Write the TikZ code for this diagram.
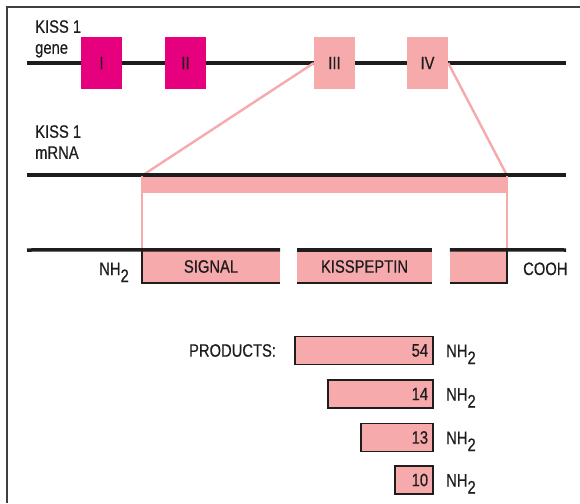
\documentclass[tikz,border=0pt]{standalone}
\usepackage{fontspec}
\setmainfont[FakeStretch=0.82, FakeBold=0.5]{Liberation Sans}
\usetikzlibrary{positioning}

\definecolor{exondark}{RGB}{230,0,126}
\definecolor{exonlight}{RGB}{246,170,172}
\definecolor{ink}{RGB}{30,28,29}

\newcommand\nhtwo{NH\raisebox{-7pt}{2}}

\tikzset{
  strand/.style={line width=3.5pt, ink},
  outline/.style={line width=2pt, ink},
  splice/.style={line width=2.4pt, exonlight},
  exonbox/.style={minimum width=41pt, minimum height=52pt, inner sep=0pt, text=ink},
  segbox/.style={fill=exonlight, minimum height=33pt, inner sep=0pt, text=ink},
  prodbox/.style={draw=ink, fill=exonlight, line width=1.8pt, minimum height=28pt,
    inner xsep=5pt, inner ysep=0pt, align=right, text=ink},
  lbl/.style={inner sep=0pt, text=ink}
}

\begin{document}
\begin{tikzpicture}[x=1pt, y=-1pt, font=\fontsize{18}{21}\selectfont]

  \useasboundingbox (0,0) rectangle (580,503);
  \draw[line width=1.4pt, ink!85] (7,503) -- (7,7) -- (580,7);

  %% line ends
  \coordinate (geneL) at (27,63);   \coordinate (geneR) at (566,63);
  \coordinate (mrnaL) at (27,175);  \coordinate (mrnaR) at (566,175);
  \coordinate (protL) at (27,250);  \coordinate (protR) at (566,250);

  %% gene
  \draw[strand] (geneL) -- (geneR);
  \node[lbl, align=left, anchor=north west] (genelbl) at (35,20) {KISS 1\\gene};
  \node[exonbox, fill=exondark]  (e1) at (101.5,63) {I};
  \node[exonbox, fill=exondark]  (e2) at (185.5,63) {II};
  \node[exonbox, fill=exonlight] (e3) at (334.5,63) {III};
  \node[exonbox, fill=exonlight] (e4) at (427.5,63) {IV};

  %% mRNA
  \node[lbl, align=left, anchor=north west] (mrnalbl) at (35,125) {KISS 1\\mRNA};
  \node[fill=exonlight, minimum width=365pt, minimum height=17pt, inner sep=0pt]
    (mbar) at (324.5,184.5) {};
  \draw[splice] (e3.west) -- (mbar.north west); %% III -> mRNA
  \draw[splice] (e4.east) -- (mbar.north east); %% IV -> mRNA
  \draw[strand] (mrnaL) -- (mrnaR);

  %% protein
  \node[segbox, minimum width=138pt] (sig)  at (211,266.5) {SIGNAL};
  \node[segbox, minimum width=135pt] (kiss) at (364.5,266.5) {KISSPEPTIN};
  \node[segbox, minimum width=57pt]  (tail) at (478.5,266.5) {};
  \draw[splice] (mbar.north west) -- (sig.north west);
  \draw[splice] (mbar.north east) -- (tail.north east);
  \draw[strand] (protL) -- (sig.north east);
  \draw[strand] (kiss.north west) -- (kiss.north east);
  \draw[strand] (tail.north west) -- (protR);
  \draw[outline] (sig.north west) -- (sig.south west) -- (sig.south east);
  \draw[outline] (kiss.south west) -- (kiss.south east);
  \draw[outline] (tail.south west) -- (tail.south east) -- (tail.north east);
  \node[lbl, anchor=base east] (nhlbl) at (129,275) {\nhtwo};
  \node[lbl, anchor=base west] (cooh) at (523,275) {COOH};

  %% products
  \foreach \n/\w/\y in {54/138/350.5, 14/105/394, 13/72/437.5, 10/38/480}{
    \node[prodbox, text width=\w pt-10pt, anchor=east] (p\n) at (434,\y) {\n};
    \node[lbl, anchor=base west] (h\n) at ([xshift=12pt, yshift=-6.5pt]p\n.east) {\nhtwo};
  }
  \node[lbl, left=18pt of p54] (prodlbl) {PRODUCTS:};

\end{tikzpicture}
\end{document}
